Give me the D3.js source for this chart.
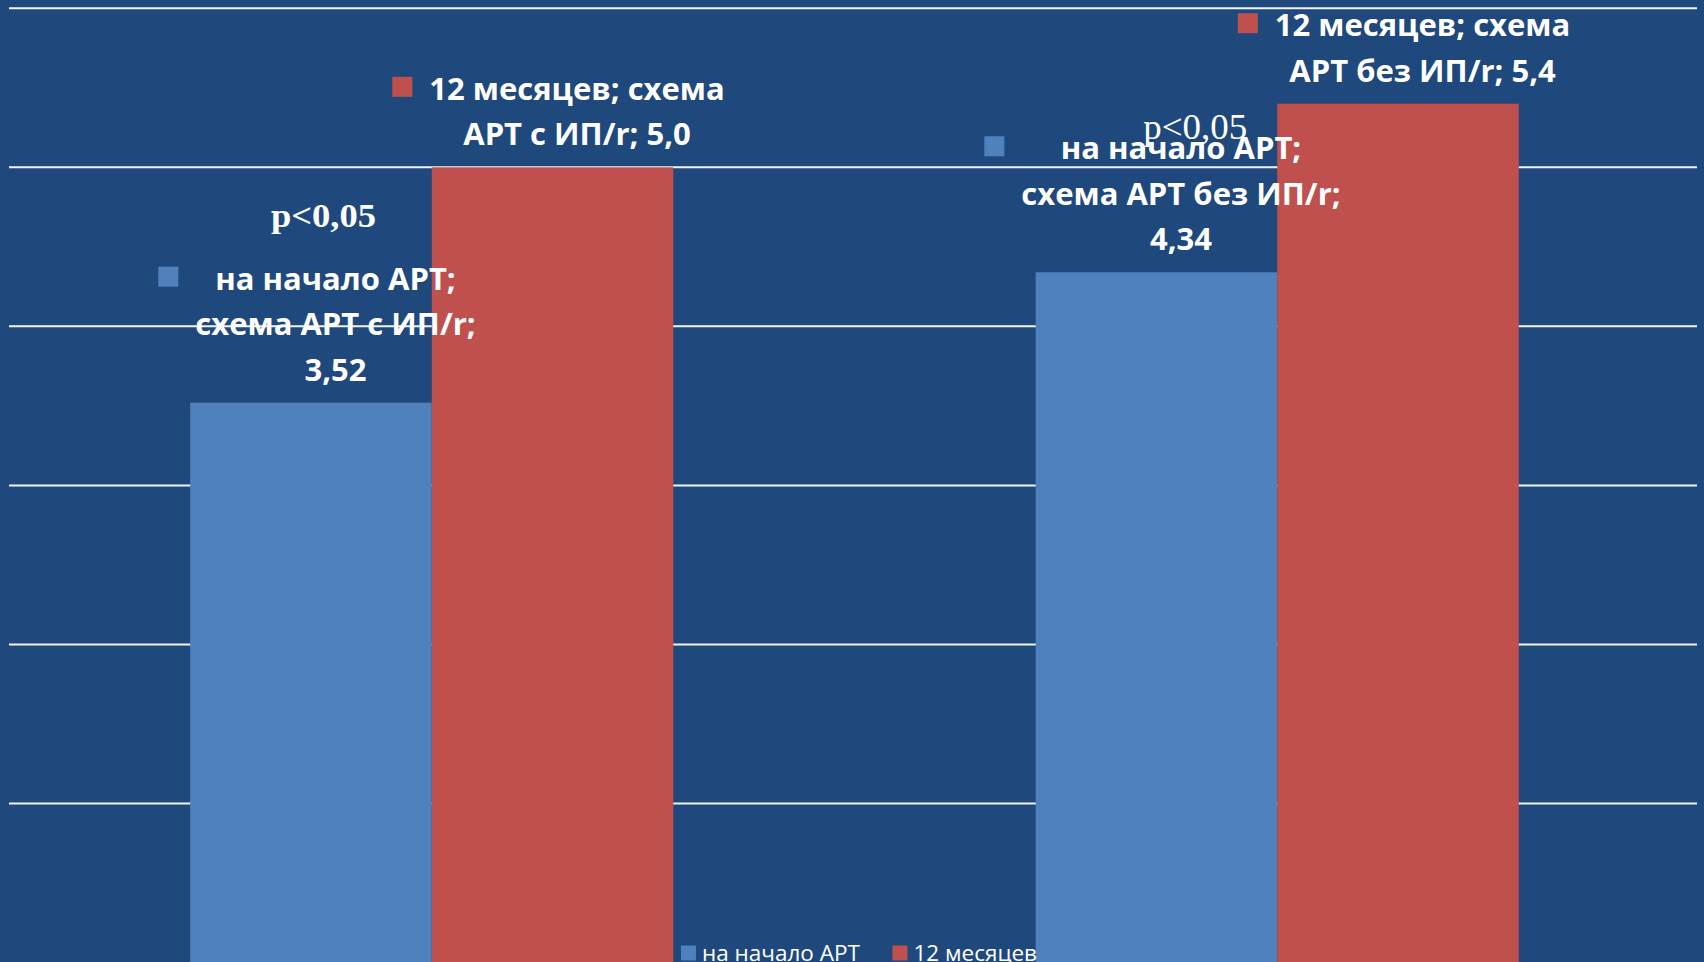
<!DOCTYPE html>
<html>
<head>
<meta charset="utf-8">
<script src="https://cdn.jsdelivr.net/npm/d3@7"></script>
<style>
  html, body { margin: 0; padding: 0; background: #1F497D; overflow: hidden; }
  svg { display: block; }
</style>
</head>
<body>
<svg id="chart" width="1704" height="962"></svg>
<script>
// Categories (treatment schemes) and series (time points)
const categories = ["схема АРТ с ИП/r", "схема АРТ без ИП/r"];
const seriesNames = ["на начало АРТ", "12 месяцев"];
const seriesColors = ["#4F81BD", "#C0504D"];
// Values per series, one per category
const startValues = [3.52, 4.34];
const month12Values = [5.0, 5.4];
const seriesDecimals = [2, 1];
// Gridline ticks
const gridTicks = [1, 2, 3, 4, 5, 6];
// Significance notes over each category
const significance = ["p<0,05", "p<0,05"];

const W = 1704, H = 962;
const svg = d3.select("#chart");

svg.append("rect").attr("width", W).attr("height", H).attr("fill", "#1F497D");

const y = d3.scaleLinear().domain([0, 6]).range([962.5, 8.3]);
const x0 = d3.scaleBand().domain(categories).range([9, 1700]).paddingInner(0).paddingOuter(0);
const x1 = d3.scaleBand().domain(seriesNames).range([0, x0.bandwidth()]).paddingInner(0).paddingOuter(0.75);

// Horizontal gridlines
svg.append("g")
  .selectAll("line")
  .data(gridTicks)
  .join("line")
  .attr("x1", 9)
  .attr("x2", 1697)
  .attr("y1", d => y(d))
  .attr("y2", d => y(d))
  .attr("stroke", "#f2f4f7")
  .attr("stroke-width", 2);

const seriesValues = [startValues, month12Values];
const bars = [];
seriesNames.forEach((s, si) => {
  categories.forEach((c, ci) => {
    bars.push({ series: s, si, category: c, ci, value: seriesValues[si][ci] });
  });
});

// Bars
svg.append("g")
  .selectAll("rect")
  .data(bars)
  .join("rect")
  .attr("x", d => x0(d.category) + x1(d.series))
  .attr("y", d => y(d.value))
  .attr("width", x1.bandwidth())
  .attr("height", d => y(0) - y(d.value))
  .attr("fill", d => seriesColors[d.si]);

const fmt = (v, dec) => v.toFixed(dec).replace(".", ",");

// Significance notes (drawn beneath the data labels)
const noteLayout = [
  { dx: 0.372, value: 4.626, weight: 700, size: 33, len: 105 },
  { dx: 0.403, value: 5.18, weight: 400, size: 36, len: 104 }
];
svg.append("g")
  .selectAll("text")
  .data(categories)
  .join("text")
  .attr("x", (c, i) => x0(c) + noteLayout[i].dx * x0.bandwidth())
  .attr("y", (c, i) => y(noteLayout[i].value))
  .attr("text-anchor", "middle")
  .attr("font-family", "'Liberation Serif', 'Times New Roman', serif")
  .attr("font-weight", (c, i) => noteLayout[i].weight)
  .attr("font-size", (c, i) => noteLayout[i].size)
  .attr("textLength", (c, i) => noteLayout[i].len)
  .attr("lengthAdjust", "spacingAndGlyphs")
  .attr("fill", "#ffffff")
  .text((c, i) => significance[i]);

// Data labels: legend key + "series; category; value", word-wrapped
const labelFont = 31, lineGap = 45.5, keySize = 20, keyGap = 17;
const labelG = svg.append("g");
const measure = svg.append("text")
  .attr("font-family", "'Open Sans', sans-serif")
  .attr("font-weight", 700)
  .attr("font-size", labelFont)
  .attr("visibility", "hidden");
const textWidth = t => { measure.text(t); return measure.node().getComputedTextLength(); };
const maxLineWidth = 345;

function wrap(str) {
  const words = str.split(" ");
  const lines = [];
  let cur = "";
  words.forEach(w => {
    const test = cur ? cur + " " + w : w;
    if (cur && textWidth(test) > maxLineWidth) { lines.push(cur); cur = w; }
    else cur = test;
  });
  if (cur) lines.push(cur);
  return lines;
}

bars.forEach(d => {
  const lines = wrap(`${d.series}; ${d.category}; ${fmt(d.value, seriesDecimals[d.si])}`);
  const widest = d3.max(lines, textWidth);
  const cx = x0(d.category) + x1(d.series) + x1.bandwidth() / 2 + 6;
  const blockW = keySize + keyGap + widest;
  const left = cx - blockW / 2;
  const textCx = left + keySize + keyGap + widest / 2;
  const lastBase = y(d.value) - 22;
  const firstBase = lastBase - (lines.length - 1) * lineGap;
  labelG.append("rect")
    .attr("x", left)
    .attr("y", firstBase - 3 - keySize)
    .attr("width", keySize)
    .attr("height", keySize)
    .attr("fill", seriesColors[d.si]);
  const t = labelG.append("text")
    .attr("font-family", "'Open Sans', sans-serif")
    .attr("font-weight", 700)
    .attr("font-size", labelFont)
    .attr("fill", "#ffffff")
    .attr("text-anchor", "middle");
  lines.forEach((ln, i) => {
    t.append("tspan").attr("x", textCx).attr("y", firstBase + i * lineGap).text(ln);
  });
});
measure.remove();

// Legend along the bottom edge
const legend = svg.append("g");
const legendFont = 22.5;
const items = legend.selectAll("g").data(seriesNames).join("g");
items.append("rect")
  .attr("width", 15).attr("height", 15)
  .attr("y", 945.5)
  .attr("fill", (d, i) => seriesColors[i]);
items.append("text")
  .attr("x", 21)
  .attr("y", 961)
  .attr("font-family", "'Open Sans', sans-serif")
  .attr("font-size", legendFont)
  .attr("fill", "#ffffff")
  .text(d => d);
let offs = [], acc = 0;
items.each(function () {
  offs.push(acc);
  acc += this.getBBox().width + 32;
});
const totalW = acc - 32;
const startX = 859 - totalW / 2;
items.attr("transform", (d, i) => `translate(${startX + offs[i]},0)`);
</script>
</body>
</html>
